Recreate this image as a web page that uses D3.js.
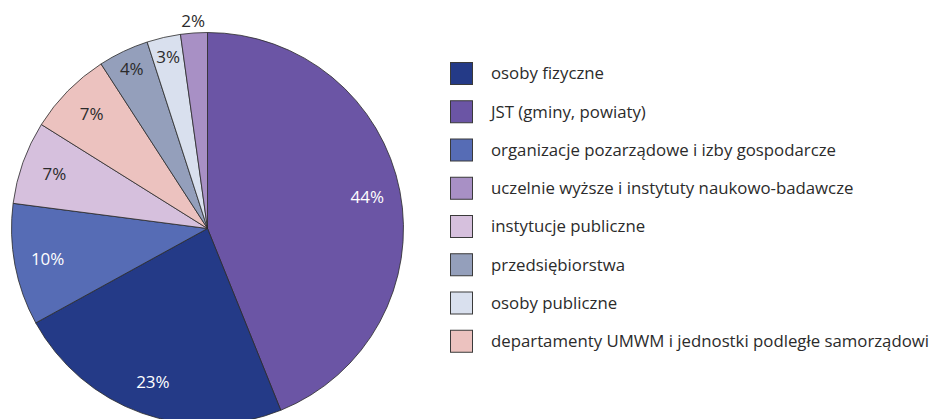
<!DOCTYPE html>
<html>
<head>
<meta charset="utf-8">
<script src="https://cdn.jsdelivr.net/npm/d3@7"></script>
<style>
  html, body { margin: 0; padding: 0; background: #fff; }
  svg { display: block; }
  text { font-family: "Open Sans", "Noto Sans", sans-serif; }
</style>
</head>
<body>
<svg id="chart" width="933" height="419"></svg>
<script>
// Legend order
const categories = [
  "osoby fizyczne",
  "JST (gminy, powiaty)",
  "organizacje pozarządowe i izby gospodarcze",
  "uczelnie wyższe i instytuty naukowo-badawcze",
  "instytucje publiczne",
  "przedsiębiorstwa",
  "osoby publiczne",
  "departamenty UMWM i jednostki podległe samorządowi"
];
const values = [23.1, 43.9, 10.05, 2.2, 6.85, 4.16, 2.78, 6.96];
const valueLabels = ["23%", "44%", "10%", "2%", "7%", "4%", "3%", "7%"];
const colors = ["#243a87", "#6b55a5", "#566cb5", "#a890c5", "#d6c0dd", "#949fbb", "#d9e0ee", "#ecc2bf"];
const labelColors = ["#ffffff", "#ffffff", "#ffffff", "#2b2b2b", "#2b2b2b", "#2b2b2b", "#2b2b2b", "#2b2b2b"];
// Clockwise drawing order of the pie, starting at 12 o'clock
const pieOrder = [
  "JST (gminy, powiaty)",
  "osoby fizyczne",
  "organizacje pozarządowe i izby gospodarcze",
  "instytucje publiczne",
  "departamenty UMWM i jednostki podległe samorządowi",
  "przedsiębiorstwa",
  "osoby publiczne",
  "uczelnie wyższe i instytuty naukowo-badawcze"
];

const svg = d3.select("#chart");
const cx = 207.5, cy = 228.5, R = 196;

const data = pieOrder.map(name => {
  const i = categories.indexOf(name);
  return { name, value: values[i], label: valueLabels[i], color: colors[i], labelColor: labelColors[i] };
});

const pie = d3.pie().sort(null).value(d => d.value);
const arc = d3.arc().innerRadius(0).outerRadius(R);
const arcs = pie(data);

const g = svg.append("g").attr("transform", `translate(${cx},${cy})`);
g.selectAll("path.slice")
  .data(arcs)
  .join("path")
  .attr("class", "slice")
  .attr("d", arc)
  .attr("fill", d => d.data.color)
  .attr("stroke", "#2a2a2a")
  .attr("stroke-width", 0.8)
  .attr("stroke-linejoin", "round");

function labelRadius(v) {
  if (v < 2.5) return R + 12;
  if (v < 5) return R * 0.9;
  return R * 0.83;
}
g.selectAll("text.pct")
  .data(arcs)
  .join("text")
  .attr("class", "pct")
  .attr("transform", d => {
    const a = (d.startAngle + d.endAngle) / 2;
    const r = labelRadius(d.data.value);
    return `translate(${r * Math.sin(a)},${-r * Math.cos(a)})`;
  })
  .attr("text-anchor", "middle")
  .attr("dy", "0.35em")
  .attr("font-size", 17)
  .attr("fill", d => d.data.labelColor)
  .text(d => d.data.label);

// Legend
const legendX = 450, legendY = 62, step = 38.25, box = 23;
const lg = svg.append("g").attr("transform", `translate(${legendX},${legendY})`);
const items = lg.selectAll("g.item")
  .data(categories)
  .join("g")
  .attr("class", "item")
  .attr("transform", (d, i) => `translate(0,${i * step})`);
items.append("rect")
  .attr("x", 0.5).attr("y", 0.5)
  .attr("width", box - 1).attr("height", box - 1)
  .attr("fill", (d, i) => colors[i])
  .attr("stroke", "#3a3a3a")
  .attr("stroke-width", 1);
items.append("text")
  .attr("x", 41)
  .attr("y", box / 2)
  .attr("dy", "0.35em")
  .attr("font-size", 16.8)
  .attr("fill", "#2b2b2b")
  .text(d => d);
</script>
</body>
</html>
